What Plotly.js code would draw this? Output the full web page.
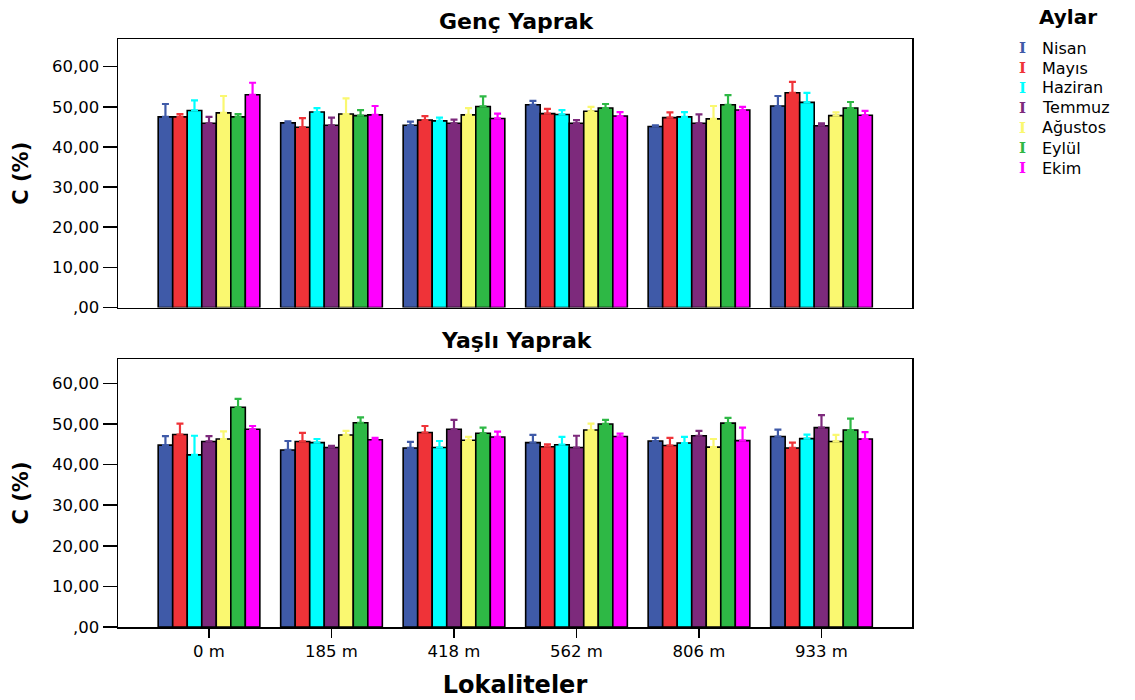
<!DOCTYPE html>
<html>
<head>
<meta charset="utf-8">
<script src="https://cdn.plot.ly/plotly-3.0.1.min.js"></script>
<style>
  html, body { margin: 0; padding: 0; background: #ffffff; }
  #chart { width: 1135px; height: 700px; }
</style>
</head>
<body>
<div id="chart"></div>
<script>
// Localities (altitude) on the category axis
const categories = ['0 m', '185 m', '418 m', '562 m', '806 m', '933 m'];

// Sampling months
const months = ['Nisan', 'Mayıs', 'Haziran', 'Temmuz', 'Ağustos', 'Eylül', 'Ekim'];
const monthColors = ['#3f5aa8', '#ef3338', '#00ffff', '#7d2a7c', '#faf870', '#2eb845', '#ff00ff'];

// Genç Yaprak: mean C (%) per month (rows) and locality (columns)
const gencMean = [
  [47.5, 46.0, 45.4, 50.5, 45.1, 50.2],
  [47.5, 44.9, 46.7, 48.3, 47.3, 53.5],
  [49.1, 48.7, 46.5, 48.1, 47.5, 51.1],
  [45.9, 45.4, 45.9, 45.9, 45.9, 45.3],
  [48.5, 48.2, 48.0, 48.9, 47.0, 47.8],
  [47.5, 47.8, 50.1, 49.7, 50.5, 49.7],
  [53.0, 48.0, 47.1, 47.7, 49.2, 47.9]
];
// Genç Yaprak: standard error
const gencErr = [
  [3.2, 0.4, 0.9, 1.0, 0.3, 2.5],
  [0.7, 2.3, 1.0, 1.2, 1.3, 2.7],
  [2.5, 1.0, 0.8, 1.1, 1.2, 2.4],
  [1.6, 1.9, 0.9, 0.8, 2.2, 0.6],
  [4.2, 3.9, 1.7, 1.1, 3.2, 0.8],
  [0.7, 1.4, 2.5, 1.0, 2.4, 1.5],
  [3.0, 2.2, 1.2, 1.0, 0.8, 1.1]
];

// Yaşlı Yaprak: mean C (%)
const yasliMean = [
  [44.8, 43.6, 44.1, 45.4, 45.8, 46.9],
  [47.4, 45.7, 47.9, 44.4, 44.7, 44.1],
  [42.4, 45.4, 44.2, 44.9, 45.3, 46.4],
  [45.7, 44.2, 48.7, 44.2, 47.1, 49.1],
  [46.3, 47.3, 46.0, 48.5, 44.3, 45.7],
  [54.1, 50.3, 47.7, 50.0, 50.2, 48.5],
  [48.7, 46.1, 46.8, 46.9, 45.9, 46.3]
];
// Yaşlı Yaprak: standard error
const yasliErr = [
  [2.2, 2.2, 1.5, 1.9, 0.8, 1.7],
  [2.7, 2.1, 1.6, 0.6, 1.9, 1.3],
  [4.7, 0.9, 1.6, 1.9, 1.5, 1.0],
  [1.3, 0.4, 2.3, 2.9, 1.2, 3.1],
  [1.9, 1.0, 0.8, 1.6, 2.0, 1.6],
  [2.1, 1.3, 1.4, 1.0, 1.3, 2.8],
  [0.8, 0.5, 1.3, 0.7, 3.2, 1.7]
];

// Value axis ticks
const yTickValues = [0, 10, 20, 30, 40, 50, 60];
const yTickLabels = [',00', '10,00', '20,00', '30,00', '40,00', '50,00', '60,00'];

const W = 1135, H = 700;
const px = v => v / W;
const py = v => 1 - v / H;

const FAMILY = 'DejaVu Sans, Arial, sans-serif';
const tickFont = { family: FAMILY, size: 16.5, color: '#000000' };
const boldFont = { family: FAMILY, size: 22, color: '#000000', weight: 'bold' };
const axisTitleFont = { family: FAMILY, size: 21, color: '#000000', weight: 'bold' };

function panelTraces(means, errs, xa, ya) {
  return months.map((m, i) => ({
    type: 'bar',
    name: m,
    x: categories,
    y: means[i],
    xaxis: xa,
    yaxis: ya,
    marker: { color: monthColors[i], line: { color: '#000000', width: 1.6 } },
    error_y: {
      type: 'data',
      symmetric: false,
      array: errs[i],
      arrayminus: errs[i].map(() => 0),
      color: monthColors[i],
      thickness: 2.2,
      width: 3.5
    },
    showlegend: false,
    hoverinfo: 'x+y+name'
  }));
}

const data = [
  ...panelTraces(gencMean, gencErr, 'x', 'y'),
  ...panelTraces(yasliMean, yasliErr, 'x2', 'y2')
];

const xDomain = [px(118), px(912)];
const xRange = [-0.743, 5.739];

const baseY = {
  tickvals: yTickValues,
  ticktext: yTickLabels,
  ticks: 'outside',
  ticklen: 14,
  tickwidth: 1.5,
  tickcolor: '#000000',
  tickfont: tickFont,
  showline: true,
  mirror: true,
  linecolor: '#000000',
  linewidth: 1.5,
  showgrid: false,
  zeroline: false,
  fixedrange: true
};

const baseX = {
  type: 'category',
  domain: xDomain,
  range: xRange,
  showline: true,
  mirror: true,
  linecolor: '#000000',
  linewidth: 1.5,
  showgrid: false,
  zeroline: false,
  fixedrange: true
};

// Month key with error-bar glyphs
const legendAnnotations = [
  { text: '<b>Aylar</b>', x: px(1068), y: py(17), xref: 'paper', yref: 'paper',
    showarrow: false, xanchor: 'center', yanchor: 'middle',
    font: { family: FAMILY, size: 20, color: '#000000' } }
];
months.forEach((m, i) => {
  const yy = py(48 + 20 * i);
  legendAnnotations.push({
    text: '<b>I</b>', x: px(1022), y: yy, xref: 'paper', yref: 'paper',
    showarrow: false, xanchor: 'center', yanchor: 'middle',
    font: { family: 'DejaVu Serif, serif', size: 15, color: monthColors[i] }
  });
  legendAnnotations.push({
    text: m, x: px(1040), y: yy, xref: 'paper', yref: 'paper',
    showarrow: false, xanchor: 'left', yanchor: 'middle',
    font: { family: FAMILY, size: 16, color: '#000000' }
  });
});

const layout = {
  width: W,
  height: H,
  margin: { l: 0, r: 0, t: 0, b: 0 },
  paper_bgcolor: '#ffffff',
  plot_bgcolor: '#ffffff',
  barmode: 'group',
  bargap: 0.17,
  bargroupgap: 0,
  showlegend: false,
  xaxis: Object.assign({}, baseX, { anchor: 'y', ticks: '', showticklabels: false }),
  yaxis: Object.assign({}, baseY, {
    anchor: 'x',
    domain: [py(307.5), py(39)],
    range: [0, 66.9],
    title: { text: 'C (%)', font: axisTitleFont, standoff: 17 }
  }),
  xaxis2: Object.assign({}, baseX, {
    anchor: 'y2',
    ticks: 'outside',
    ticklen: 9,
    tickwidth: 1.5,
    tickcolor: '#000000',
    tickfont: tickFont,
    title: { text: 'Lokaliteler', font: Object.assign({}, boldFont, { size: 24 }), standoff: 16 }
  }),
  yaxis2: Object.assign({}, baseY, {
    anchor: 'x2',
    domain: [py(627), py(359)],
    range: [0, 66.0],
    title: { text: 'C (%)', font: axisTitleFont, standoff: 17 }
  }),
  annotations: [
    { text: 'Genç Yaprak', x: px(517), y: py(21), xref: 'paper', yref: 'paper',
      showarrow: false, xanchor: 'center', yanchor: 'middle', font: boldFont },
    { text: 'Yaşlı Yaprak', x: px(517), y: py(340), xref: 'paper', yref: 'paper',
      showarrow: false, xanchor: 'center', yanchor: 'middle', font: boldFont },
    ...legendAnnotations
  ]
};

Plotly.newPlot('chart', data, layout, { staticPlot: true, displayModeBar: false });
</script>
</body>
</html>
